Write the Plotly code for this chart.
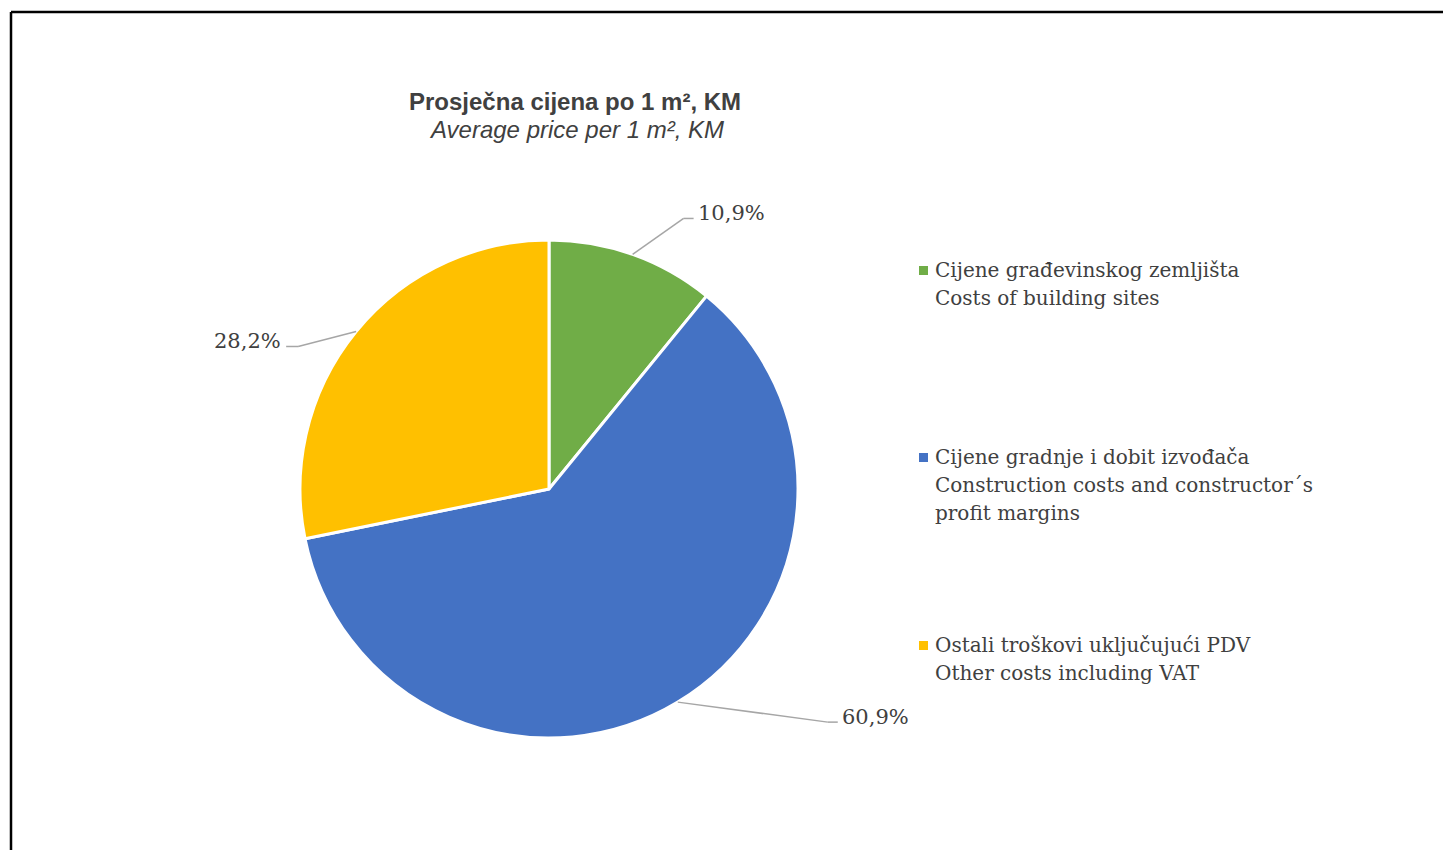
import math
import plotly.graph_objects as go

# ---- data ----
categories_bs = ["Cijene građevinskog zemljišta", "Cijene gradnje i dobit izvođača", "Ostali troškovi uključujući PDV"]
categories_en = ["Costs of building sites", "Construction costs and constructor´s<br>profit margins", "Other costs including VAT"]
shares = [10.9, 60.9, 28.2]
label_text = ["10,9%", "60,9%", "28,2%"]
colors = ["#70AD47", "#4472C4", "#FFC000"]

title_bs = "Prosječna cijena po 1 m², KM"
title_en = "Average price per 1 m², KM"

OFF = 8  # page body margin
W, H = 1451 - OFF, 850 - OFF
CX, CY, R = 549, 489, 249  # pie geometry in screen px

def px(x):
    return (x - OFF) / W

def py(y):
    return 1 - (y - OFF) / H

fig = go.Figure()
fig.add_trace(go.Pie(
    values=shares,
    labels=[c for c in categories_bs],
    marker=dict(colors=colors, line=dict(color="white", width=3)),
    sort=False,
    direction="clockwise",
    rotation=0,
    textinfo="none",
    hoverinfo="label+percent",
    showlegend=False,
    domain=dict(x=[px(CX - R), px(CX + R)], y=[py(CY + R), py(CY - R)]),
))

shapes = []
annotations = []

# border (only top and left visible)
shapes.append(dict(type="line", xref="paper", yref="paper", x0=px(11), x1=1.01, y0=py(12), y1=py(12),
                   line=dict(color="black", width=2.5)))
shapes.append(dict(type="line", xref="paper", yref="paper", x0=px(11), x1=px(11), y0=py(12), y1=-0.01,
                   line=dict(color="black", width=2.5)))

# data labels with leader lines (elbow offsets / anchors are layout styling)
elbow_offsets = [(51, -36), (150, 20), (-58, 15)]
tail = [10, 10, -12]
total = sum(shares)
cum = 0
for i, v in enumerate(shares):
    mid = (cum + v / 2) / total * 2 * math.pi
    cum += v
    ex = CX + R * math.sin(mid)
    ey = CY - R * math.cos(mid)
    bx = ex + elbow_offsets[i][0]
    by = ey + elbow_offsets[i][1]
    tx = bx + tail[i]
    shapes.append(dict(type="line", xref="paper", yref="paper", x0=px(ex), y0=py(ey), x1=px(bx), y1=py(by),
                       line=dict(color="#A6A6A6", width=1.5)))
    shapes.append(dict(type="line", xref="paper", yref="paper", x0=px(bx), y0=py(by), x1=px(tx), y1=py(by),
                       line=dict(color="#A6A6A6", width=1.5)))
    annotations.append(dict(xref="paper", yref="paper", x=px(tx + (2 if tail[i] > 0 else -3)), y=py(by - 5),
                            text=label_text[i], showarrow=False,
                            xanchor="left" if tail[i] > 0 else "right", yanchor="middle",
                            font=dict(family="DejaVu Serif", size=21, color="#404040")))

# legend (custom)
legend_top = [270, 457, 645]
line_h = 28
for i in range(len(shares)):
    y0 = legend_top[i]
    shapes.append(dict(type="rect", xref="paper", yref="paper", x0=px(919), x1=px(928), y0=py(y0 - 4), y1=py(y0 + 5),
                       fillcolor=colors[i], line=dict(width=0)))
    lines = [categories_bs[i]] + categories_en[i].split("<br>")
    for j, t in enumerate(lines):
        annotations.append(dict(xref="paper", yref="paper", x=px(933), y=py(y0 + j * line_h),
                                text=t, showarrow=False, xanchor="left", yanchor="middle",
                                font=dict(family="DejaVu Serif", size=20, color="#404040")))

# title
annotations.append(dict(xref="paper", yref="paper", x=px(575), y=py(101), text="<b>" + title_bs + "</b>",
                        showarrow=False, xanchor="center", yanchor="middle",
                        font=dict(family="Liberation Sans", size=24, color="#404040")))
annotations.append(dict(xref="paper", yref="paper", x=px(576), y=py(129), text="<i>" + title_en + "</i>",
                        showarrow=False, xanchor="center", yanchor="middle",
                        font=dict(family="Liberation Sans", size=24, color="#404040")))

fig.update_layout(
    width=W, height=H,
    margin=dict(l=0, r=0, t=0, b=0),
    paper_bgcolor="white", plot_bgcolor="white",
    shapes=shapes, annotations=annotations,
)

fig.write_html("out.html", config={"displayModeBar": False})
